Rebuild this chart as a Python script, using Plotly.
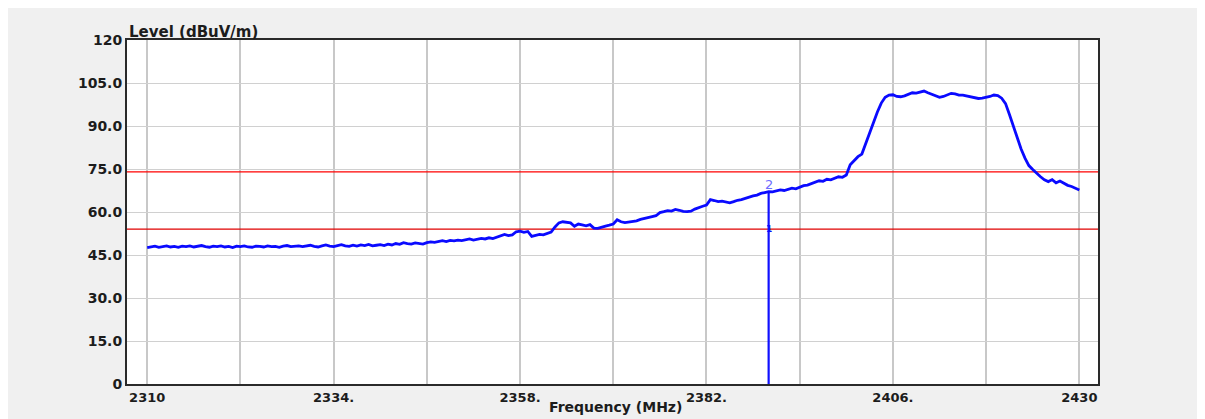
import numpy as np
import plotly.graph_objects as go

# Measured level trace (dBuV/m), 0.5 MHz steps starting at 2310 MHz
start_freq = 2310.0
step_mhz = 0.5
levels = [
    # 2310 - 2319.5
    47.6, 47.9, 48.1, 47.7, 47.9, 48.2, 47.8, 48.0, 47.7, 48.1,
    47.9, 48.2, 47.8, 48.0, 48.3, 47.9, 47.7, 48.1, 47.9, 48.2,
    # 2320 - 2329.5
    47.8, 48.0, 47.6, 48.1, 47.9, 48.2, 47.8, 47.7, 48.1, 48.0,
    47.8, 48.2, 47.9, 48.0, 47.7, 48.1, 48.3, 47.9, 48.0, 48.2,
    # 2330 - 2339.5
    47.9, 48.1, 48.4, 48.0, 47.8, 48.2, 48.5, 48.1, 47.9, 48.3,
    48.6, 48.2, 48.0, 48.4, 48.1, 48.5, 48.3, 48.7, 48.2, 48.4,
    # 2340 - 2349.5
    48.6, 48.3, 48.8, 48.5, 49.0, 48.7, 49.3, 49.0, 48.8, 49.2,
    49.0, 48.8, 49.3, 49.6, 49.4, 49.8, 50.0, 49.7, 50.1, 49.9,
    # 2350 - 2359.5
    50.2, 50.0, 50.3, 50.6, 50.2, 50.5, 50.8, 50.6, 51.0, 50.7,
    51.2, 51.9, 52.2, 51.8, 52.0, 53.1, 53.3, 52.9, 53.2, 51.5,
    # 2360 - 2369.5
    51.8, 52.2, 52.0, 52.6, 53.0, 54.8, 56.2, 56.6, 56.4, 56.2,
    55.0, 55.8, 55.5, 55.2, 55.6, 54.4, 54.3, 54.8, 55.1, 55.4,
    # 2370 - 2379.5
    55.8, 57.3, 56.6, 56.3, 56.5, 56.6, 56.9, 57.4, 57.8, 58.1,
    58.4, 58.7, 59.8, 60.1, 60.5, 60.3, 60.9, 60.6, 60.2, 60.1,
    # 2380 - 2389.5
    60.3, 61.0, 61.6, 62.0, 62.4, 64.3, 64.0, 63.6, 63.8, 63.4,
    63.2, 63.6, 64.1, 64.3, 64.8, 65.3, 65.6, 65.9, 66.5, 66.8,
    # 2390 - 2399.5
    67.1, 67.0, 67.4, 67.7, 67.5, 67.9, 68.3, 68.1, 68.6, 69.2,
    69.4, 69.9, 70.5, 70.9, 70.7, 71.4, 71.2, 71.8, 72.3, 72.1,
    # 2400 - 2409.5
    72.9, 76.5, 77.8, 79.3, 80.2, 84.0, 87.5, 91.4, 94.9, 98.0,
    100.0, 100.8, 100.9, 100.3, 100.2, 100.5, 101.0, 101.6, 101.5, 101.8,
    # 2410 - 2419.5
    102.2, 101.6, 101.0, 100.6, 100.0, 100.3, 100.9, 101.4, 101.2, 100.8,
    100.8, 100.5, 100.2, 99.8, 99.6, 99.7, 99.9, 100.3, 100.8, 100.6,
    # 2420 - 2429.5
    99.7, 97.8, 94.0, 89.8, 85.8, 82.0, 78.8, 76.2, 74.8, 73.4,
    72.3, 71.2, 70.6, 71.3, 70.2, 70.8, 69.9, 69.3, 68.9, 68.4,
    # 2430
    67.7,
]
freqs = start_freq + step_mhz * np.arange(len(levels))

# Limit lines (dBuV/m)
limit_peak = 74.0
limit_avg = 54.0

# Markers
marker_freq = 2390.0
marker2_level = 67.1
marker1_level = 54.0

# Axes
x_grid_vals = [2310, 2322, 2334, 2346, 2358, 2370, 2382, 2394, 2406, 2418, 2430]
x_tick_text = ["2310", "", "2334.", "", "2358.", "", "2382.", "", "2406.", "", "2430"]
y_tick_vals = [0, 15, 30, 45, 60, 75, 90, 105, 120]
y_tick_text = ["0", "15.0", "30.0", "45.0", "60.0", "75.0", "90.0", "105.0", "120"]
x_title = "Frequency (MHz)"
y_title = "Level (dBuV/m)"

x_range = [2307.4, 2432.4]
y_range = [0, 120]

FONT = "DejaVu Sans"
TXT = "#1c1c1c"

fig = go.Figure()

fig.add_trace(go.Scatter(x=[x_range[0], x_range[1]], y=[limit_peak, limit_peak],
                         mode="lines", line=dict(color="#ff0000", width=1.2),
                         hoverinfo="skip", showlegend=False))
fig.add_trace(go.Scatter(x=[x_range[0], x_range[1]], y=[limit_avg, limit_avg],
                         mode="lines", line=dict(color="#e00000", width=1.2),
                         hoverinfo="skip", showlegend=False))
fig.add_trace(go.Scatter(x=[marker_freq, marker_freq], y=[0, marker2_level],
                         mode="lines", line=dict(color="#1010ff", width=2.2),
                         hoverinfo="skip", showlegend=False))
fig.add_trace(go.Scatter(x=freqs, y=levels, mode="lines",
                         line=dict(color="#0a0aff", width=2.8),
                         showlegend=False))

fig.add_annotation(x=marker_freq, y=marker2_level, text="2", showarrow=False,
                   yanchor="bottom", yshift=-2, font=dict(family=FONT, size=13, color="#6e6eff"))
fig.add_annotation(x=marker_freq, y=marker1_level, text="1", showarrow=False,
                   yanchor="middle", font=dict(family=FONT, size=9, color="#0a0aff", weight="bold"))

fig.add_annotation(xref="paper", yref="paper", x=0.0, y=(384 - 32) / 344,
                   xanchor="left", yanchor="middle", text=y_title, showarrow=False,
                   font=dict(family=FONT, size=15, color=TXT, weight="bold"))
fig.add_annotation(xref="paper", yref="paper", x=(615 - 127) / 971, y=(384 - 407) / 344,
                   xanchor="center", yanchor="middle", text=x_title, showarrow=False,
                   font=dict(family=FONT, size=14, color=TXT, weight="bold"))

fig.update_layout(
    width=1210, height=411,
    margin=dict(l=119, r=120, t=32, b=35),
    paper_bgcolor="#f0f0f0",
    plot_bgcolor="white",
    font=dict(family=FONT, size=13, color=TXT),
    xaxis=dict(range=x_range, tickmode="array", tickvals=x_grid_vals, ticktext=x_tick_text,
               showgrid=True, gridcolor="#c8c8c8", gridwidth=2, zeroline=False,
               showline=True, linecolor="#2a2a2a", linewidth=2, mirror=True,
               ticks="", ticklabelstandoff=0,
               tickfont=dict(family=FONT, size=13, color=TXT, weight="bold")),
    yaxis=dict(range=y_range, tickmode="array", tickvals=y_tick_vals, ticktext=y_tick_text,
               showgrid=True, gridcolor="#d0d0d0", gridwidth=1, zeroline=False,
               showline=True, linecolor="#2a2a2a", linewidth=2, mirror=True,
               ticks="", tickfont=dict(family=FONT, size=14, color=TXT, weight="bold")),
)

fig.write_html("out.html")
